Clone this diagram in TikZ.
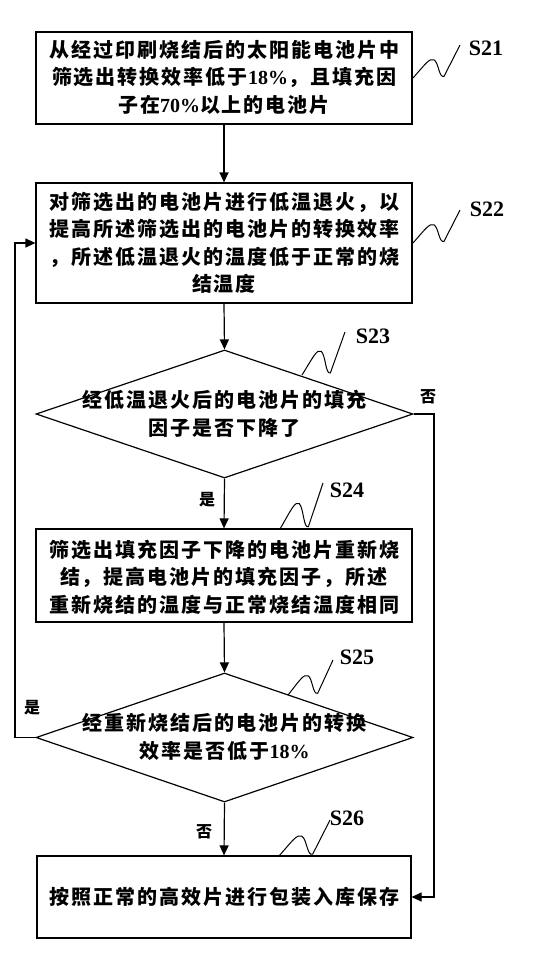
\documentclass[tikz,border=0pt]{standalone}
\usepackage{fontspec}
\setmainfont{Liberation Serif}
\newfontfamily\latf{Liberation Serif}
\newfontfamily\cjk[LetterSpace=10]{Noto Sans CJK SC}
\newfontfamily\cjklab{Noto Sans CJK SC}
\usetikzlibrary{arrows.meta,shapes.geometric}
\newcommand\dg[1]{{\latf #1}}
\tikzset{
  box/.style={draw, line width=1.2pt, inner sep=0pt},
  dia/.style={draw, diamond, line width=1.2pt, inner sep=0pt, minimum width=377pt, minimum height=128pt},
  txt/.style={align=center, font=\cjk\bfseries\fontsize{20}{27.5}\selectfont, inner sep=0pt},
  arr/.style={line width=1.2pt, -{Triangle[length=10pt,width=9pt]}},
  yn/.style={font=\cjklab\bfseries\fontsize{16}{16}\selectfont, inner sep=0pt},
  stag/.style={font=\latf\bfseries\fontsize{22}{22}\selectfont, inner sep=0pt},
  squig/.pic={\draw[line width=1pt] (0,0) .. controls (0.25,0.4) and (0.35,0.62) .. (0.45,0.55) .. controls (0.55,0.45) and (0.55,0.0) .. (0.66,0.05) -- (1,1);}
}
\begin{document}
\begin{tikzpicture}[x=1pt,y=-1pt]
\useasboundingbox (0,0) rectangle (536,964);
% boxes
\node[box, minimum width=376pt, minimum height=92pt] (b1) at (224,78) {};
\node[txt] (t1) at (224,77) {从经过印刷烧结后的太阳能电池片中\\筛选出转换效率低于\dg{18\%}，且填充因\\子在\dg{70\%}以上的电池片};
\node[box, minimum width=376pt, minimum height=120pt] (b2) at (224,243) {};
\node[txt] (t2) at (224,243) {对筛选出的电池片进行低温退火，以\\提高所述筛选出的电池片的转换效率\\，所述低温退火的温度低于正常的烧\\结温度};
\node[dia] (d1) at (224.5,414) {};
\node[txt] (t3) at (224.5,414) {经低温退火后的电池片的填充\\因子是否下降了};
\node[box, minimum width=376pt, minimum height=93pt] (b3) at (224,575.5) {};
\node[txt] (t4) at (224,577) {筛选出填充因子下降的电池片重新烧\\结，提高电池片的填充因子，所述\\重新烧结的温度与正常烧结温度相同};
\node[dia, minimum height=129pt] (d2) at (224.5,737.5) {};
\node[txt] (t5) at (224.5,737) {经重新烧结后的电池片的转换\\效率是否低于\dg{18\%}};
\node[box, minimum width=374pt, minimum height=82pt] (b6) at (224,897) {};
\node[txt] (t6) at (224,897) {按照正常的高效片进行包装入库保存};
% connectors
\draw[arr] (b1.south) -- (b2.north);
\draw[arr] (b2.south) -- (d1.north);
\draw[arr] (d1.south) -- (b3.north);
\draw[arr] (b3.south) -- (d2.north);
\draw[arr] (d2.south) -- (b6.north);
\coordinate (r1) at (434,414);
\coordinate (l1) at (15,737.5);
\draw[arr] (d1.east) -- (r1) |- (b6.east);
\draw[arr] (d2.west) -- (l1) |- (b2.west);
% yes / no labels
\node[yn] (y1) at (207,500) {是};
\node[yn] (n1) at (428,397) {否};
\node[yn] (y2) at (32,708) {是};
\node[yn] (n2) at (204,832) {否};
% step tags
\pic[xscale=47,yscale=-33] at (413,78) {squig};
\node[stag] (s21) at (486,48) {S21};
\pic[xscale=47,yscale=-33] at (413,243) {squig};
\node[stag] (s22) at (487,209) {S22};
\pic[xscale=43,yscale=-43] at (302,375) {squig};
\node[stag] (s23) at (373,336) {S23};
\pic[xscale=43,yscale=-46] at (280,529) {squig};
\node[stag] (s24) at (347,490) {S24};
\pic[xscale=45,yscale=-35] at (288,695) {squig};
\node[stag] (s25) at (357,657) {S25};
\pic[xscale=51,yscale=-36] at (279,856) {squig};
\node[stag] (s26) at (347,818) {S26};
\end{tikzpicture}
\end{document}
